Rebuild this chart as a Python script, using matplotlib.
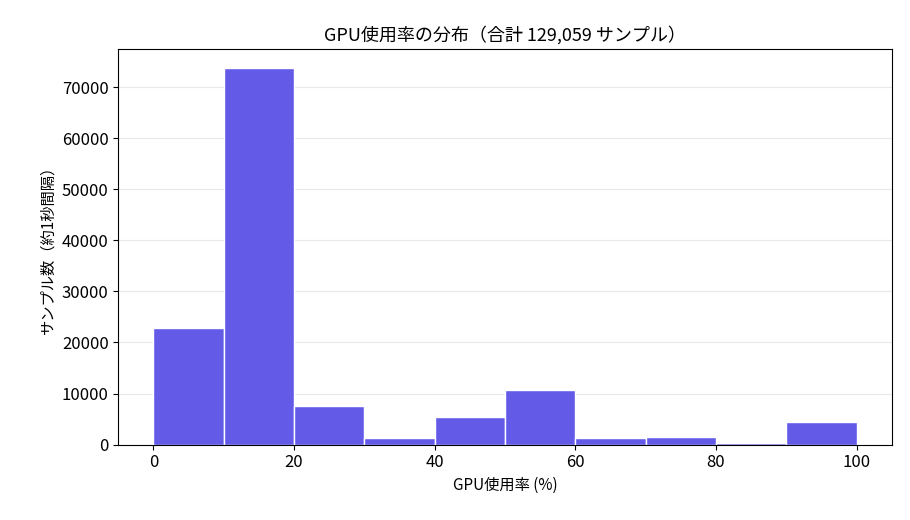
import matplotlib
matplotlib.use("Agg")
import matplotlib.pyplot as plt
import numpy as np

plt.rcParams['font.family'] = ['Noto Sans CJK JP', 'DejaVu Sans']

# histogram bin edges and counts
bin_edges = [0, 10, 20, 30, 40, 50, 60, 70, 80, 90, 100]
counts = [22800, 73700, 7600, 1300, 5500, 10600, 1300, 1500, 300, 4500]

fig, ax = plt.subplots(figsize=(9.1, 5.2), dpi=100)
left = np.array(bin_edges[:-1])
widths = np.diff(bin_edges)
ax.bar(left, counts, width=widths, align='edge', color='#635BE8',
       edgecolor='white', linewidth=1, zorder=2)

ax.set_xlim(-5, 105)
ax.set_xticks([0, 20, 40, 60, 80, 100])
ax.set_yticks(range(0, 70001, 10000))
ax.yaxis.grid(True, color='#e8e8e8', linewidth=0.8, zorder=0)
ax.set_axisbelow(True)
ax.tick_params(labelsize=12)

ax.set_title('GPU使用率の分布（合計 129,059 サンプル）', fontsize=13)
ax.set_xlabel('GPU使用率 (%)', fontsize=11)
ax.set_ylabel('サンプル数（約1秒間隔）', fontsize=11)

fig.subplots_adjust(left=0.13, right=0.98, top=0.905, bottom=0.145)
fig.savefig('out.png')
